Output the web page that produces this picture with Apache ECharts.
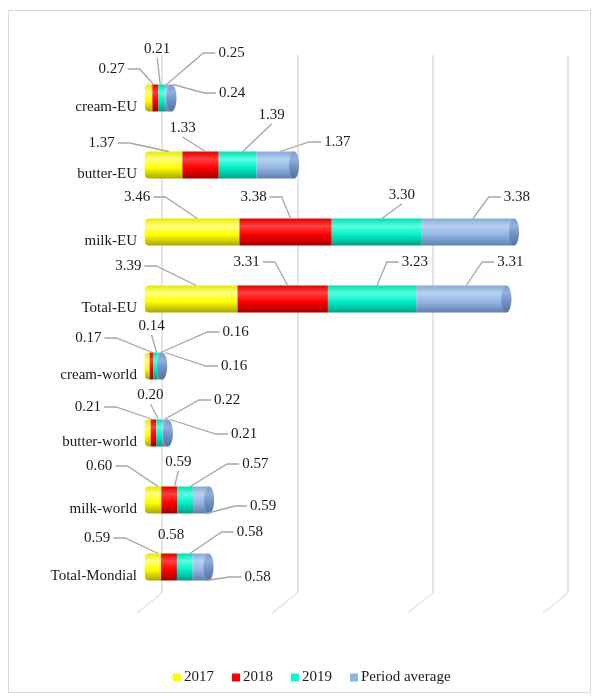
<!DOCTYPE html>
<html>
<head>
<meta charset="utf-8">
<style>
  html, body { margin: 0; padding: 0; background: #fff; }
  #chart { width: 596px; height: 700px; }
  #frame { position: absolute; left: 8px; top: 10px; width: 581px; height: 681px;
           border: 1px solid #d9d9d9; pointer-events: none; }
</style>
<script src="https://cdn.jsdelivr.net/npm/echarts@6/dist/echarts.min.js"></script>
</head>
<body>
<div id="chart"></div>
<div id="frame"></div>
<script>
// Product categories, top to bottom
const categories = ['cream-EU', 'butter-EU', 'milk-EU', 'Total-EU',
                    'cream-world', 'butter-world', 'milk-world', 'Total-Mondial'];
const seriesNames = ['2017', '2018', '2019', 'Period average'];

// Values per year and the period average
const v2017 = [0.27, 1.37, 3.46, 3.39, 0.17, 0.21, 0.60, 0.59];
const v2018 = [0.21, 1.33, 3.38, 3.31, 0.14, 0.20, 0.59, 0.58];
const v2019 = [0.25, 1.39, 3.30, 3.23, 0.16, 0.22, 0.57, 0.58];
const vAvg  = [0.24, 1.37, 3.38, 3.31, 0.16, 0.21, 0.59, 0.58];

// Value axis ticks
const xTicks = [0, 5, 10, 15];

const allValues = [v2017, v2018, v2019, vAvg];

// Label placement: offset of each value label from its segment anchor
// [dx, dy, leader side, anchor edge]
const labelLayout = [
  [[-42, -29, 'L', 't'], [-3, -49, 'T', 't'], [65, -45, 'R', 't'], [59, -5, 'R', 't']],
  [[-67, -22, 'L', 't'], [-23, -37, 'T', 't'], [29, -50, 'T', 't'], [57, -23, 'R', 't']],
  [[-60, -35, 'L', 't'], [-37, -35, 'L', 't'], [20, -37, 'T', 't'], [44, -35, 'R', 't']],
  [[-68, -33, 'L', 't'], [-41, -37, 'L', 't'], [38, -37, 'R', 't'], [44, -37, 'R', 't']],
  [[-64, -28, 'L', 't'], [-5, -40, 'T', 't'], [75, -34, 'R', 't'], [69, 0, 'R', 't']],
  [[-65, -26, 'L', 't'], [-8, -38, 'T', 't'], [63, -33, 'R', 't'], [74, 1, 'R', 't']],
  [[-59, -34, 'L', 't'], [4, -38, 'T', 't'], [65, -36, 'R', 't'], [57, 6, 'R', 'b']],
  [[-61, -29, 'L', 't'], [-3, -32, 'N', 't'], [60, -35, 'R', 't'], [52, 10, 'R', 'b']]
];

const FONT = '"Liberation Serif", "Times New Roman", serif';
const BAR_W = 27;

const flatColors = ['#FFFF00', '#FF0000', '#00FFCC', '#8EB4E3'];
function cyl(c0, c1, c2, c3) {
  return new echarts.graphic.LinearGradient(0, 0, 0, 1, [
    { offset: 0, color: c0 }, { offset: 0.28, color: c1 },
    { offset: 0.6, color: c2 }, { offset: 1, color: c3 }
  ]);
}
const fills = [
  cyl('#e8e800', '#ffff80', '#ffff00', '#a8a800'),
  cyl('#e00000', '#ff4040', '#ff0000', '#a00000'),
  cyl('#00dcb4', '#5cffe0', '#00f0c8', '#00a085'),
  cyl('#86a9d6', '#b6d1f2', '#94b7e3', '#6080b0')
];

// Text measurement for leader line attachment
const mctx = document.createElement('canvas').getContext('2d');
mctx.font = '15px ' + FONT;
function textW(t) { return mctx.measureText(t).width; }

// Label data: [categoryIndex, seriesIndex, segmentStart, value]
const labelData = [];
const totals = [];
categories.forEach((c, ci) => {
  let acc = 0;
  allValues.forEach((arr, si) => {
    labelData.push([ci, si, acc, arr[ci]]);
    acc += arr[ci];
  });
  totals.push([acc, ci]);
});

const chart = echarts.init(document.getElementById('chart'));

const barSeries = allValues.map((arr, si) => ({
  name: seriesNames[si],
  type: 'bar',
  stack: 'total',
  barWidth: BAR_W,
  xAxisIndex: 0, yAxisIndex: 0,
  color: flatColors[si],
  itemStyle: {
    color: fills[si],
    borderRadius: si === 0 ? [4, 0, 0, 4] : 0
  },
  emphasis: { disabled: true },
  data: arr,
  z: 3
}));

chart.setOption({
  animation: false,
  backgroundColor: '#fff',
  textStyle: { fontFamily: FONT },
  legend: {
    left: 168, top: 665,
    itemWidth: 8, itemHeight: 8, itemGap: 18,
    icon: 'rect',
    textStyle: { fontFamily: FONT, fontSize: 15, color: '#1a1a1a', padding: [2, 0, 0, -2] },
    data: seriesNames.map((n, i) => ({ name: n, itemStyle: { color: flatColors[i] } }))
  },
  grid: [
    { left: 145, right: 41.5, top: 64.5, bottom: 99.5 },
    { left: 162, right: 28, top: 55, bottom: 107 }
  ],
  xAxis: [
    { gridIndex: 0, type: 'value', min: 0, max: 15, interval: 5,
      axisLine: { show: false }, axisTick: { show: false },
      axisLabel: { show: false }, splitLine: { show: false } },
    { gridIndex: 1, type: 'value', min: 0, max: 15, interval: 5,
      axisLine: { show: false }, axisTick: { show: false },
      axisLabel: { show: false },
      splitLine: { show: true, lineStyle: { color: '#dcdcdc', width: 1.5 } } }
  ],
  yAxis: [
    { gridIndex: 0, type: 'category', inverse: true, data: categories,
      axisLine: { show: false }, axisTick: { show: false },
      axisLabel: { interval: 0, margin: 8, verticalAlign: 'top', padding: [2, 0, 0, 0],
                   fontFamily: FONT, fontSize: 15, color: '#1a1a1a' } },
    { gridIndex: 1, type: 'value', min: 0, max: 1, show: false }
  ],
  series: [
    // floor segments of the gridlines
    {
      type: 'custom', xAxisIndex: 1, yAxisIndex: 1, silent: true, clip: false, z: 1,
      data: xTicks.map(t => [t, 0]),
      renderItem(params, api) {
        const p = api.coord([api.value(0), 0]);
        return { type: 'line', shape: { x1: p[0], y1: p[1], x2: p[0] - 25, y2: p[1] + 20 },
                 style: { stroke: '#e2e2e2', lineWidth: 1.3 } };
      }
    },
    ...barSeries,
    // cylinder end caps
    {
      type: 'custom', xAxisIndex: 0, yAxisIndex: 0, silent: true, clip: false, z: 4,
      data: totals,
      renderItem(params, api) {
        const p = api.coord([api.value(0), api.value(1)]);
        return { type: 'ellipse', shape: { cx: p[0], cy: p[1], rx: 5, ry: BAR_W / 2 },
                 style: { fill: cyl('#7d9ccb', '#91b0dc', '#6f8fc0', '#55729f') } };
      }
    },
    // value labels with leader lines
    {
      type: 'custom', xAxisIndex: 0, yAxisIndex: 0, silent: true, clip: false, z: 6,
      data: labelData,
      renderItem(params, api) {
        const ci = api.value(0), si = api.value(1);
        const start = api.value(2), val = api.value(3);
        const [dx, dy, side, edge] = labelLayout[ci][si];
        const c = api.coord([start + val / 2, ci]);
        const ax = c[0] + 5;
        const ay = edge === 'b' ? c[1] + BAR_W / 2 : c[1] - BAR_W / 2;
        const lx = ax + dx, ly = c[1] + dy;
        const txt = val.toFixed(2);
        const hw = textW(txt) / 2;
        let pts = null;
        if (side === 'L') {
          const x0 = lx + hw + 3;
          pts = [[x0, ly], [x0 + 12, ly], [ax, ay]];
        } else if (side === 'R') {
          const x0 = lx - hw - 3;
          pts = [[x0, ly], [x0 - 12, ly], [ax, ay]];
        } else if (side === 'T') {
          pts = [[lx, ly + 9], [ax, ay]];
        }
        const children = [];
        if (pts) {
          children.push({ type: 'polyline', shape: { points: pts },
                          style: { stroke: '#a6a6a6', lineWidth: 1.3, fill: null } });
        }
        children.push({ type: 'text', x: lx, y: ly,
          style: { text: txt, fontFamily: FONT, fontSize: 15, fill: '#1a1a1a',
                   align: 'center', verticalAlign: 'middle' } });
        return { type: 'group', children };
      }
    }
  ]
});
</script>
</body>
</html>
